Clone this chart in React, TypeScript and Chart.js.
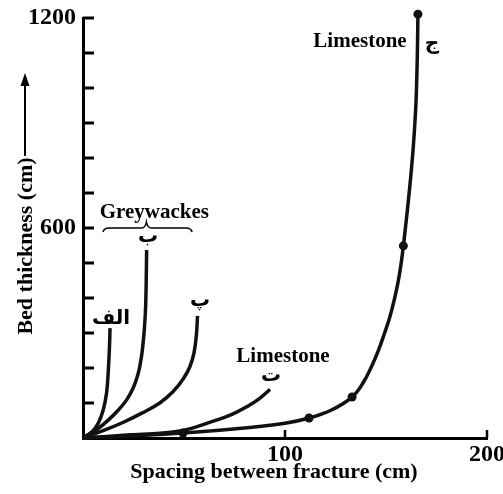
import React, { useEffect, useRef } from 'react';
import { Chart, registerables } from 'chart.js';
Chart.register(...registerables);

// Data (x: spacing between fracture, cm; y: bed thickness, cm)
const curveAlef: [number, number][] = [[0, 0], [4.5, 18], [7.6, 43], [10.0, 80], [11.7, 130], [12.6, 200], [13.1, 260], [13.4, 314]];
const curveBe: [number, number][] = [[0, 0], [7, 25], [12.5, 51], [17.5, 80], [21.6, 109], [25, 145], [27.4, 186], [29.0, 235], [29.9, 280], [30.6, 330], [31.0, 375], [31.3, 450], [31.5, 537]];
const curvePe: [number, number][] = [[0, 0], [10.9, 23], [20, 45], [29.1, 71], [38, 100], [44.5, 132], [49.5, 168], [52.8, 202], [54.9, 242], [56.1, 292], [56.7, 349]];
const curveTe: [number, number][] = [[0, 0], [23.3, 9], [48.0, 20], [64.5, 48], [74, 68], [81.0, 89], [87, 111], [92.6, 139]];
const curveJim: [number, number][] = [[0, 0], [25, 6], [49.5, 14], [82.7, 30], [100, 42], [111.9, 57], [123, 80], [133.2, 117], [138.6, 157], [142.9, 205], [146.3, 251], [149.3, 300], [151.9, 346], [154.1, 395], [155.9, 443], [157.4, 495], [158.6, 549], [159.9, 615], [161.1, 680], [162.3, 750], [163.4, 823], [164.3, 900], [164.9, 966], [165.5, 1090], [165.8, 1211]];
const curveJimMarkers: [number, number][] = [[49.5, 14], [111.9, 57], [133.2, 117], [158.6, 549], [165.8, 1211]];

const xMin = 0, xMax = 200, xStep = 100;
const yMin = 0, yMax = 1200, yStep = 100;
const yLabelled = [600, 1200];
const xTitle = 'Spacing between fracture (cm)';
const yTitle = 'Bed thickness (cm)';

const SERIF = "'Liberation Serif', 'Times New Roman', serif";
const ARABIC = "'DejaVu Sans', 'Noto Sans', sans-serif";

const toPts = (a: [number, number][]) => a.map(([x, y]) => ({ x, y }));

const overlay = {
  id: 'overlay',
  afterDraw(chart: any) {
    const { ctx, chartArea } = chart;
    const xs = chart.scales.x;
    const ys = chart.scales.y;
    const px = (v: number) => xs.getPixelForValue(v);
    const py = (v: number) => ys.getPixelForValue(v);
    ctx.save();
    ctx.strokeStyle = '#000';
    ctx.fillStyle = '#000';
    ctx.lineCap = 'butt';
    // inner ticks
    ctx.lineWidth = 3;
    ys.ticks.forEach((t: any) => {
      if (t.value <= 0) return;
      const y = py(t.value);
      ctx.beginPath();
      ctx.moveTo(chartArea.left, y);
      ctx.lineTo(chartArea.left + 11, y);
      ctx.stroke();
    });
    ctx.lineWidth = 2.5;
    xs.ticks.forEach((t: any) => {
      if (t.value <= 0) return;
      const x = px(t.value);
      ctx.beginPath();
      ctx.moveTo(x, chartArea.bottom);
      ctx.lineTo(x, chartArea.bottom - 8);
      ctx.stroke();
    });

    // x title
    ctx.font = `bold 22px ${SERIF}`;
    ctx.textAlign = 'center';
    ctx.textBaseline = 'alphabetic';
    ctx.fillText(xTitle, 274, 478);

    // y title rotated + arrow
    ctx.save();
    ctx.translate(32, 246);
    ctx.rotate(-Math.PI / 2);
    ctx.fillText(yTitle, 0, 0);
    ctx.restore();
    ctx.lineWidth = 2;
    ctx.beginPath();
    ctx.moveTo(25, 156);
    ctx.lineTo(25, 82);
    ctx.stroke();
    ctx.beginPath();
    ctx.moveTo(25, 73);
    ctx.lineTo(20.5, 86);
    ctx.lineTo(29.5, 86);
    ctx.closePath();
    ctx.fill();

    // Greywackes and brace
    ctx.font = `bold 21px ${SERIF}`;
    ctx.fillText('Greywackes', px(35.3), 218);
    const bL = px(9.9), bR = px(54), bM = px(31.4), bY = py(600);
    ctx.lineWidth = 1.5;
    ctx.beginPath();
    ctx.moveTo(bL, bY + 4);
    ctx.quadraticCurveTo(bL + 1, bY, bL + 6, bY);
    ctx.lineTo(bM - 5, bY);
    ctx.quadraticCurveTo(bM - 1, bY, bM, bY - 6);
    ctx.quadraticCurveTo(bM + 1, bY, bM + 5, bY);
    ctx.lineTo(bR - 6, bY);
    ctx.quadraticCurveTo(bR - 1, bY, bR, bY + 4);
    ctx.stroke();

    // Limestone labels
    ctx.fillText('Limestone', 360, 47);
    ctx.fillText('Limestone', 283, 362);

    // Persian letters
    ctx.font = `bold 20px ${ARABIC}`;
    ctx.textBaseline = 'middle';
    ctx.fillText('الف', px(13.9), py(340));
    ctx.fillText('ب', px(32.2), py(575));
    ctx.fillText('پ', px(57.9), py(392));
    ctx.fillText('ت', px(93.1), py(177));
    ctx.fillText('ج', px(172.8), py(1125));
    ctx.restore();
  },
};

export default function App() {
  const ref = useRef<HTMLCanvasElement>(null);
  useEffect(() => {
    if (!ref.current) return;
    const lineStyle = {
      showLine: true,
      borderColor: '#111',
      borderWidth: 3.5,
      pointRadius: 0,
      tension: 0.4,
      clip: false as any,
      fill: false,
    };
    const chart = new Chart(ref.current, {
      type: 'scatter',
      data: {
        datasets: [
          { label: 'الف', data: toPts(curveAlef), ...lineStyle },
          { label: 'ب', data: toPts(curveBe), ...lineStyle },
          { label: 'پ', data: toPts(curvePe), ...lineStyle },
          { label: 'ت', data: toPts(curveTe), ...lineStyle },
          { label: 'ج', data: toPts(curveJim), ...lineStyle },
          {
            label: 'markers',
            data: toPts(curveJimMarkers),
            showLine: false,
            pointRadius: 4.5,
            pointBackgroundColor: '#111',
            pointBorderColor: '#111',
            pointBorderWidth: 0,
            clip: false as any,
          },
        ],
      },
      options: {
        animation: false,
        responsive: false,
        devicePixelRatio: 1,
        events: [],
        layout: { padding: { left: 0, right: 16, top: 18, bottom: 0 } },
        plugins: { legend: { display: false }, tooltip: { enabled: false } },
        scales: {
          x: {
            type: 'linear',
            min: xMin,
            max: xMax,
            grid: { display: false, drawTicks: false },
            border: { display: true, color: '#000', width: 3 },
            ticks: {
              stepSize: xStep,
              autoSkip: false,
              maxRotation: 0,
              padding: 2,
              color: '#000',
              font: { family: SERIF, weight: 'bold', size: 24 },
              callback: (v: any) => (v === 0 ? '' : String(v)),
            },
            afterFit: (s: any) => { s.height = 56; s.paddingLeft = 0; s.paddingRight = 0; },
          },
          y: {
            type: 'linear',
            min: yMin,
            max: yMax,
            grid: { display: false, drawTicks: false },
            border: { display: true, color: '#000', width: 3 },
            ticks: {
              stepSize: yStep,
              autoSkip: false,
              padding: 7,
              color: '#000',
              font: { family: SERIF, weight: 'bold', size: 24 },
              callback: (v: any) => (yLabelled.includes(v) ? String(v) : ''),
            },
            afterFit: (s: any) => { s.width = 83; s.paddingTop = 0; s.paddingBottom = 0; },
          },
        },
      } as any,
      plugins: [overlay],
    });
    return () => chart.destroy();
  }, []);
  return (
    <div style={{ position: 'absolute', left: 0, top: 0, width: 503, height: 494, background: '#fff' }}>
      <canvas ref={ref} width={503} height={494} style={{ display: 'block' }} />
    </div>
  );
}
